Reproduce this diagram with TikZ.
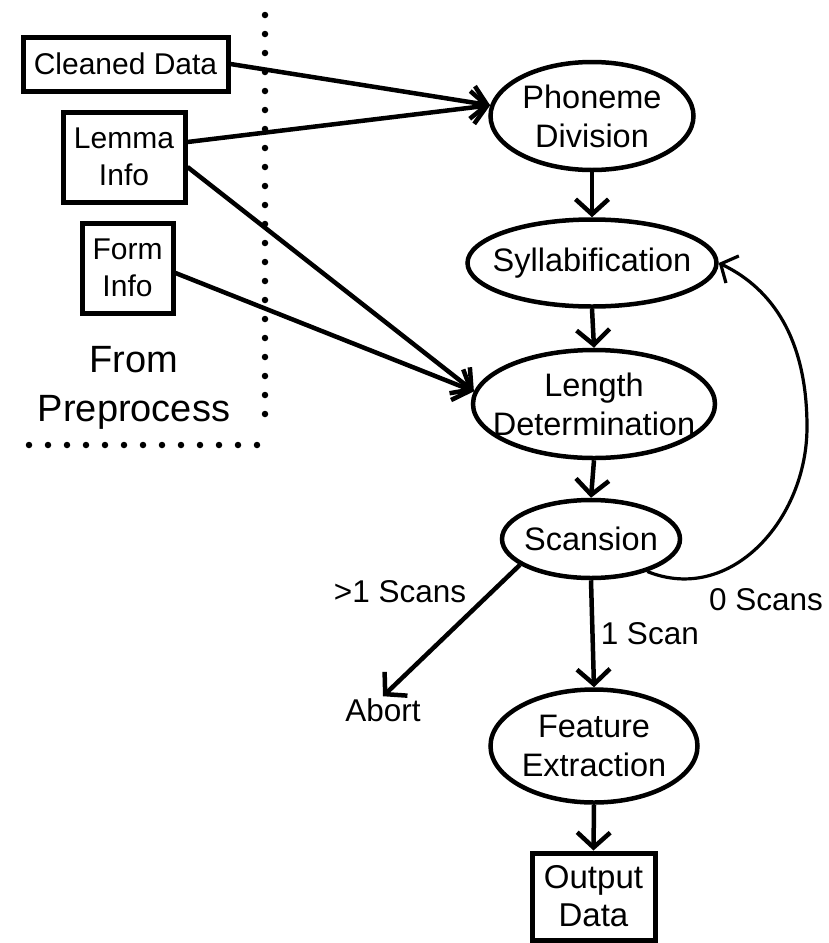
\documentclass[tikz,border=0pt]{standalone}
\usepackage{fontspec}
\setmainfont{Liberation Sans}
\usetikzlibrary{shapes.geometric,arrows.meta}
\begin{document}
\begin{tikzpicture}[x=1pt,y=-1pt,
  box/.style={draw, line width=5pt, rectangle, inner sep=0pt, align=center, font=\fontsize{30}{37}\selectfont},
  ell/.style={draw, ellipse, line width=4.5pt, inner sep=0pt},
  etxt/.style={align=center, font=\fontsize{32.5}{39}\selectfont},
  lbl/.style={font=\fontsize{31.5}{36}\selectfont, inner sep=2pt},
  big/.style={align=center, font=\fontsize{38}{49}\selectfont},
  conn/.style={line width=4.5pt, -{Straight Barb[length=15pt,width=33pt]}},
  loopconn/.style={line width=3.2pt, -{Straight Barb[length=13pt,width=30pt]}},
  dots/.style={line width=6.5pt, line cap=round, dash pattern=on 0pt off 19pt}]
\useasboundingbox (0,0) rectangle (829,943);

% input boxes
\node[box, minimum width=205pt, minimum height=54pt] (cd) at (125.5,64) {Cleaned Data};
\node[box, minimum width=122pt, minimum height=90pt] (li) at (124,157) {Lemma\\Info};
\node[box, minimum width=91pt, minimum height=90pt] (fi) at (127.5,268) {Form\\Info};
\node[big] (fp) at (134,388) {From\\Preprocess};

% dotted separator
\draw[dots] (265,15) -- (265,430);
\draw[dots] (257,445) -- (13,445);

% process ellipses
\node[ell, minimum width=203pt, minimum height=108pt, label={[etxt]center:Phoneme\\Division}] (pd) at (592,116) {};
\node[ell, minimum width=249pt, minimum height=87pt, label={[etxt]center:Syllabification}] (sy) at (592,263) {};
\node[ell, minimum width=242pt, minimum height=108pt, label={[etxt]center:Length\\Determination}] (ld) at (594,404) {};
\node[ell, minimum width=178pt, minimum height=78pt, label={[etxt]center:Scansion}] (sc) at (591,539) {};
\node[ell, minimum width=207pt, minimum height=113pt, label={[etxt]center:Feature\\Extraction}] (fe) at (594,746) {};
\node[box, minimum width=123pt, minimum height=87pt, font=\fontsize{33}{38}\selectfont] (od) at (593.5,896.5) {Output\\Data};
\node[lbl] (ab) at (383,710) {Abort};

% connectors
\draw[conn] (cd.east) -- (pd.174);
\draw[conn] ([yshift=15pt]li.east) -- (pd.174);
\draw[conn] ([yshift=-10pt]li.east) -- (ld.174);
\draw[conn] ([yshift=-5pt]fi.east) -- (ld.174);
\draw[conn] (pd.south) -- (sy.north);
\draw[conn] (sy.south) -- (ld.north);
\draw[conn] (ld.south) -- (sc.north);
\draw[conn] (sc.south) -- node[lbl, right=4pt] {1 Scan} (fe.north);
\draw[conn] (fe.south) -- (od.north);
\draw[conn] (sc.200) -- (ab.north);
\node[lbl] at (400,592) {>1 Scans};
\draw[loopconn] (sc.-30) .. controls (730,605) and (807,520) .. (807,427)
  .. controls (807,330) and (765,285) .. (sy.east);
\node[lbl] at (766,600) {0 Scans};
\end{tikzpicture}
\end{document}
